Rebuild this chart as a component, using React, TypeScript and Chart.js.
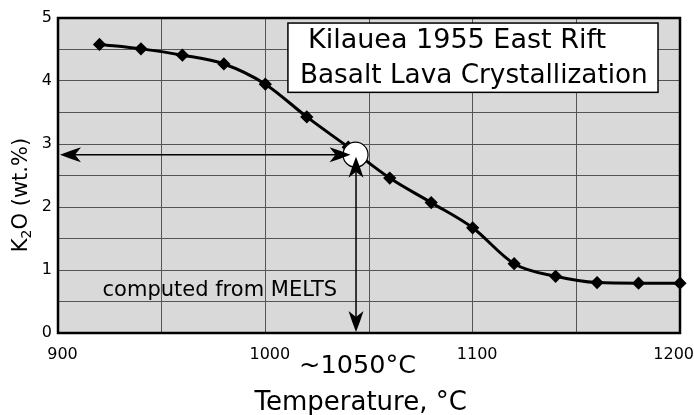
import React, { useEffect, useRef } from "react";
import { Chart, registerables } from "chart.js";

Chart.register(...registerables);

// ---- data ----
const temperatures = [920, 940, 960, 980, 1000, 1020, 1040, 1060, 1080, 1100, 1120, 1140, 1160, 1180, 1200];
const k2oValues = [4.58, 4.51, 4.41, 4.27, 3.95, 3.43, 2.95, 2.46, 2.07, 1.67, 1.1, 0.9, 0.8, 0.79, 0.79];
const xTickLabels = [900, 1000, 1100, 1200];
const yTickLabels = [0, 1, 2, 3, 4, 5];

// annotation (read-off point)
const markTemp = 1043.5;
const markK2O = 2.83;
const titleLines = ["Kilauea 1955 East Rift", "Basalt Lava Crystallization"];
const noteText = "computed from MELTS";
const markText = "~1050°C";
const xTitle = "Temperature, °C";
const yTitleParts = ["K", "2", "O (wt.%)"];

const FONT = '"DejaVu Sans", Verdana, sans-serif';

function arrowHead(ctx: CanvasRenderingContext2D, tipX: number, tipY: number, dx: number, dy: number) {
  const len = 21, half = 7.5, notch = 15;
  const px = -dy, py = dx;
  ctx.beginPath();
  ctx.moveTo(tipX, tipY);
  ctx.quadraticCurveTo(
    tipX - dx * len * 0.5 + px * half * 0.55,
    tipY - dy * len * 0.5 + py * half * 0.55,
    tipX - dx * len + px * half,
    tipY - dy * len + py * half
  );
  ctx.lineTo(tipX - dx * notch, tipY - dy * notch);
  ctx.lineTo(tipX - dx * len - px * half, tipY - dy * len - py * half);
  ctx.quadraticCurveTo(
    tipX - dx * len * 0.5 - px * half * 0.55,
    tipY - dy * len * 0.5 - py * half * 0.55,
    tipX,
    tipY
  );
  ctx.closePath();
  ctx.fill();
}

const decorPlugin = {
  id: "decor",
  beforeDraw(chart: any) {
    const { ctx, chartArea: a } = chart;
    ctx.save();
    ctx.fillStyle = "#ffffff";
    ctx.fillRect(0, 0, chart.width, chart.height);
    ctx.fillStyle = "#d9d9d9";
    ctx.fillRect(a.left, a.top, a.right - a.left, a.bottom - a.top);
    ctx.restore();
  },
  beforeDatasetsDraw(chart: any) {
    const { ctx, chartArea: a, scales } = chart;
    const x = scales.x, y = scales.y;
    ctx.save();
    // frame
    ctx.strokeStyle = "#000";
    ctx.lineWidth = 2.5;
    ctx.strokeRect(a.left, a.top, a.right - a.left, a.bottom - a.top);
    // x tick labels
    ctx.fillStyle = "#000";
    ctx.font = `16px ${FONT}`;
    ctx.textBaseline = "middle";
    ctx.textAlign = "center";
    xTickLabels.forEach((v) => {
      const s = String(v);
      const w = ctx.measureText(s).width;
      let cx = x.getPixelForValue(v) + 4.5;
      if (cx + w / 2 > chart.width) cx = chart.width - w / 2;
      ctx.fillText(s, cx, a.bottom + 22);
    });
    // note text
    ctx.textAlign = "left";
    ctx.textBaseline = "alphabetic";
    ctx.font = `21px ${FONT}`;
    ctx.fillText(noteText, x.getPixelForValue(921.5), y.getPixelForValue(0.58));
    // axis titles
    ctx.font = `26px ${FONT}`;
    ctx.textAlign = "center";
    ctx.fillText(xTitle, x.getPixelForValue(1046), chart.height - 5);
    ctx.font = `25.5px ${FONT}`;
    ctx.fillText(markText, x.getPixelForValue(markTemp) + 2, a.bottom + 40);
    // y title with subscript
    ctx.save();
    ctx.translate(27, 195);
    ctx.rotate(-Math.PI / 2);
    ctx.textAlign = "left";
    const big = `21px ${FONT}`;
    const small = `14px ${FONT}`;
    ctx.font = big;
    const w0 = ctx.measureText(yTitleParts[0]).width;
    const w2 = ctx.measureText(yTitleParts[2]).width;
    ctx.font = small;
    const w1 = ctx.measureText(yTitleParts[1]).width;
    let px = -(w0 + w1 + w2) / 2;
    ctx.font = big;
    ctx.fillText(yTitleParts[0], px, 0);
    px += w0;
    ctx.font = small;
    ctx.fillText(yTitleParts[1], px, 4);
    px += w1;
    ctx.font = big;
    ctx.fillText(yTitleParts[2], px, 0);
    ctx.restore();
    ctx.restore();
  },
  afterDatasetsDraw(chart: any) {
    const { ctx, scales } = chart;
    const x = scales.x, y = scales.y;
    const cx = x.getPixelForValue(markTemp);
    const cy = y.getPixelForValue(markK2O);
    ctx.save();
    // circle
    ctx.beginPath();
    ctx.arc(cx, cy, 12.5, 0, Math.PI * 2);
    ctx.fillStyle = "#fff";
    ctx.fill();
    ctx.lineWidth = 1.2;
    ctx.strokeStyle = "#000";
    ctx.stroke();
    // horizontal double arrow
    const lx = x.getPixelForValue(900) + 2;
    const rx = cx - 5;
    ctx.lineWidth = 1.5;
    ctx.beginPath();
    ctx.moveTo(lx + 14, cy);
    ctx.lineTo(rx - 14, cy);
    ctx.stroke();
    ctx.fillStyle = "#000";
    arrowHead(ctx, lx, cy, -1, 0);
    arrowHead(ctx, rx, cy, 1, 0);
    // vertical double arrow
    const vx = cx + 0.5;
    const ty = cy + 2;
    const by = y.getPixelForValue(0) - 1;
    ctx.beginPath();
    ctx.moveTo(vx, ty + 14);
    ctx.lineTo(vx, by - 14);
    ctx.stroke();
    arrowHead(ctx, vx, ty, 0, -1);
    arrowHead(ctx, vx, by, 0, 1);
    // title box
    const bl = x.getPixelForValue(1010.9);
    const br = x.getPixelForValue(1189.4);
    const bt = y.getPixelForValue(4.92);
    const bb = y.getPixelForValue(3.82);
    ctx.fillStyle = "#fff";
    ctx.fillRect(bl, bt, br - bl, bb - bt);
    ctx.lineWidth = 1.5;
    ctx.strokeRect(bl, bt, br - bl, bb - bt);
    ctx.fillStyle = "#000";
    ctx.textAlign = "left";
    ctx.textBaseline = "alphabetic";
    ctx.font = `27px ${FONT}`;
    ctx.fillText(titleLines[0], bl + 20, bt + 25);
    ctx.font = `26.3px ${FONT}`;
    ctx.fillText(titleLines[1], bl + 12, bt + 60);
    ctx.restore();
  },
};

export default function App() {
  const ref = useRef<HTMLCanvasElement | null>(null);
  useEffect(() => {
    document.body.style.margin = "0";
    const canvas = ref.current;
    if (!canvas) return;
    const chart = new Chart(canvas, {
      type: "line",
      data: {
        datasets: [
          {
            data: temperatures.map((t, i) => ({ x: t, y: k2oValues[i] })),
            borderColor: "#000",
            backgroundColor: "#000",
            borderWidth: 3,
            pointStyle: "rectRot",
            pointRadius: 4.5,
            pointHoverRadius: 4.5,
            cubicInterpolationMode: "monotone",
            clip: false as any,
          },
        ],
      },
      options: {
        animation: false,
        responsive: false,
        maintainAspectRatio: false,
        events: [],
        layout: { padding: { left: 0, top: 18, right: 14, bottom: 0 } },
        plugins: { legend: { display: false }, tooltip: { enabled: false }, title: { display: false } },
        scales: {
          x: {
            type: "linear",
            min: 900,
            max: 1200,
            ticks: { stepSize: 50, display: false },
            grid: { color: "#555", lineWidth: 1, drawTicks: false },
            border: { display: false },
            afterFit: (s: any) => {
              s.height = 82;
            },
          },
          y: {
            type: "linear",
            min: 0,
            max: 5,
            ticks: {
              stepSize: 0.5,
              padding: 6,
              color: "#000",
              font: { family: FONT, size: 16 },
              callback: (v: any) => (yTickLabels.includes(Number(v)) ? String(v) : ""),
            },
            grid: { color: "#555", lineWidth: 1, drawTicks: false },
            border: { display: false },
            afterFit: (s: any) => {
              s.width = 58;
            },
          },
        },
      },
      plugins: [decorPlugin],
    });
    return () => chart.destroy();
  }, []);
  return <canvas ref={ref} width={694} height={415} style={{ display: "block" }} />;
}
